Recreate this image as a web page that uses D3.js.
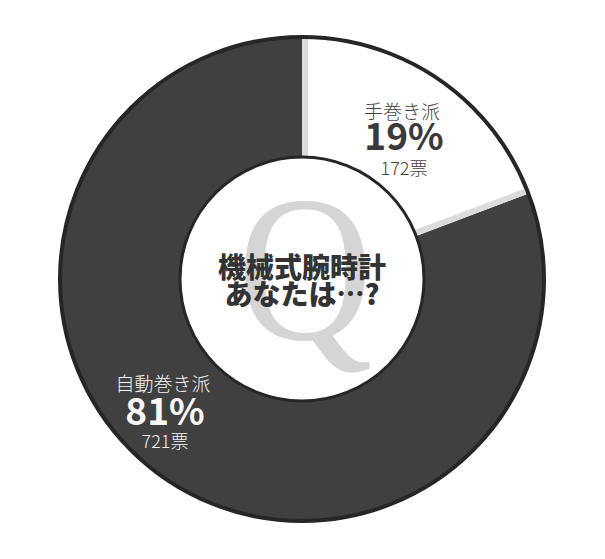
<!DOCTYPE html>
<html><head><meta charset="utf-8">
<script src="https://cdn.jsdelivr.net/npm/d3@7/dist/d3.min.js"></script>
<style>
html,body{margin:0;padding:0;background:#fff;}
svg{display:block;}
text{font-family:"Noto Sans CJK JP","Noto Sans",sans-serif;}
</style></head>
<body>
<script>
const categories = ["手巻き派", "自動巻き派"];
const votes = [172, 721];
const percents = ["19%", "81%"];
const voteLabels = ["172票", "721票"];
const centerLines = ["機械式腕時計", "あなたは…?"];

const W = 605, H = 559;
const cx = 302, cy = 279, R = 242, r0 = 122;
const fills = ["#ffffff", "#404040"];
const textColors = [["#444", "#3a3a3a", "#444"], ["#f2f2f2", "#f7f7f7", "#f2f2f2"]];
const labelPos = [[402, 0], [163, 0]];

const svg = d3.select("body").append("svg").attr("width", W).attr("height", H);
const g = svg.append("g").attr("transform", `translate(${cx},${cy})`);

const pie = d3.pie().sort(null).value(d => d)(votes);
const arc = d3.arc().innerRadius(r0).outerRadius(R);

g.selectAll("path.slice").data(pie).join("path")
  .attr("class", "slice")
  .attr("d", arc)
  .attr("fill", (d, i) => fills[i]);

// light gray strips on the white slice edges
const s = pie[0];
[[s.startAngle, 1], [s.endAngle, -1]].forEach(([a, dir]) => {
  const ox = Math.cos(a) * 3 * dir, oy = Math.sin(a) * 3 * dir;
  g.append("line")
    .attr("x1", Math.sin(a) * r0 + ox).attr("y1", -Math.cos(a) * r0 + oy)
    .attr("x2", Math.sin(a) * (R - 1) + ox).attr("y2", -Math.cos(a) * (R - 1) + oy)
    .attr("stroke", "#dcdcdc").attr("stroke-width", 6);
});

// outer border
g.append("circle").attr("r", R).attr("fill", "none").attr("stroke", "#262626").attr("stroke-width", 4);
// inner circle
g.append("circle").attr("r", r0).attr("fill", "#fff").attr("stroke", "#262626").attr("stroke-width", 3);

// big Q
g.append("text").text("Q")
  .attr("transform", "translate(3,-10) scale(0.9,1)")
  .attr("text-anchor", "middle")
  .attr("dominant-baseline", "central")
  .style("font-family", "'Liberation Serif','DejaVu Serif',serif")
  .style("font-size", "208px")
  .attr("fill", "#d5d5d5");

// center text
centerLines.forEach((t, i) => {
  g.append("text").text(t)
    .attr("x", 0).attr("y", -13 + i * 27)
    .attr("text-anchor", "middle")
    .attr("dominant-baseline", "central")
    .style("font-size", "28px").style("font-weight", 900)
    .attr("fill", "#333");
});

// labels
const labelY = [[110, 150, 175], [382, 425, 448]];
pie.forEach((d, i) => {
  const x = labelPos[i][0];
  svg.append("text").text(categories[i])
    .attr("x", x).attr("y", labelY[i][0])
    .attr("text-anchor", "middle").attr("dominant-baseline", "central")
    .style("font-size", "19px").style("font-weight", 300)
    .attr("fill", textColors[i][0]);
  svg.append("text").text(percents[i])
    .attr("x", x + 2).attr("y", labelY[i][1])
    .attr("text-anchor", "middle")
    .style("font-size", "37px").style("font-weight", 700)
    .attr("fill", textColors[i][1]);
  svg.append("text").text(voteLabels[i])
    .attr("x", x + 2).attr("y", labelY[i][2])
    .attr("text-anchor", "middle")
    .style("font-size", "18px").style("font-weight", 300)
    .attr("fill", textColors[i][2]);
});
</script>
</body></html>
